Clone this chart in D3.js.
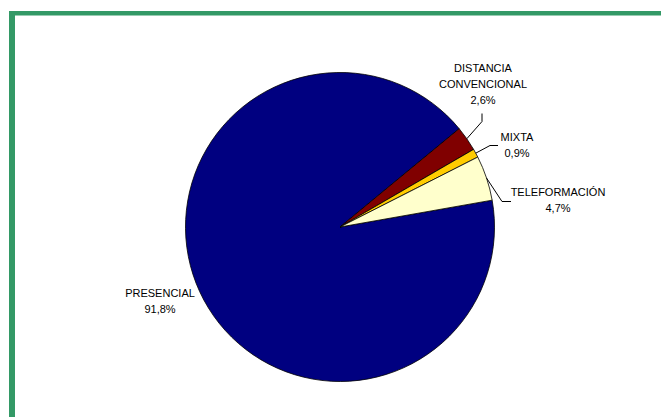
<!DOCTYPE html>
<html>
<head>
<meta charset="utf-8">
<script src="https://cdn.jsdelivr.net/npm/d3@7"></script>
<style>
  html, body { margin: 0; padding: 0; background: #fff; }
  svg { display: block; }
  text { font-family: "Liberation Sans", Arial, sans-serif; font-size: 11px; fill: #000; }
</style>
</head>
<body>
<svg id="chart" width="661" height="417"></svg>
<script>
// Data
const categories = ["PRESENCIAL", "DISTANCIA CONVENCIONAL", "MIXTA", "TELEFORMACIÓN"];
const values = [91.8, 2.6, 0.9, 4.7];
const valueLabels = ["91,8%", "2,6%", "0,9%", "4,7%"];
const labelLines = [["PRESENCIAL"], ["DISTANCIA", "CONVENCIONAL"], ["MIXTA"], ["TELEFORMACIÓN"]];
const colors = ["#000080", "#800000", "#FFCC00", "#FFFFCC"];

const svg = d3.select("#chart");
const W = 661, H = 417;

// frame
svg.append("rect").attr("x", 0).attr("y", 0).attr("width", W).attr("height", H).attr("fill", "#fff");
svg.append("rect").attr("x", 9).attr("y", 11).attr("width", 6).attr("height", H - 11).attr("fill", "#339966");
svg.append("rect").attr("x", 9).attr("y", 11).attr("width", W - 9).attr("height", 4.5).attr("fill", "#339966");

const cx = 340, cy = 227, r = 154.5;
const g = svg.append("g").attr("transform", `translate(${cx},${cy})`);

const pie = d3.pie().sort(null).value(d => d)
  .startAngle(80 * Math.PI / 180)
  .endAngle(80 * Math.PI / 180 + 2 * Math.PI);
const arcs = pie(values);
const arc = d3.arc().innerRadius(0).outerRadius(r);

g.selectAll("path.slice").data(arcs).join("path")
  .attr("class", "slice")
  .attr("d", arc)
  .attr("fill", (d, i) => colors[i])
  .attr("stroke", "#000")
  .attr("stroke-width", 0.8)
  .attr("stroke-linejoin", "round");

// label layout (positions relative to svg)
const labelPos = [
  { x: 160, y: 297, leader: null },
  { x: 483, y: 72, leader: [[482, 113.5], [482, 121.5]] },
  { x: 517, y: 140.5, leader: [[498, 145.5], [490, 145.5]] },
  { x: 558, y: 195.5, leader: [[511, 201.5], [502, 201.5]] }
];

arcs.forEach((a, i) => {
  const lp = labelPos[i];
  const lines = labelLines[i].concat([valueLabels[i]]);
  const t = svg.append("text").attr("text-anchor", "middle");
  lines.forEach((s, k) => {
    t.append("tspan").attr("x", lp.x).attr("y", lp.y + k * 16).text(s);
  });
  if (lp.leader) {
    const mid = (a.startAngle + a.endAngle) / 2;
    const ex = cx + r * Math.sin(mid), ey = cy - r * Math.cos(mid);
    const pts = lp.leader.concat([[ex, ey]]);
    svg.append("path")
      .attr("d", d3.line()(pts))
      .attr("fill", "none")
      .attr("stroke", "#000")
      .attr("stroke-width", 1);
  }
});
</script>
</body>
</html>
